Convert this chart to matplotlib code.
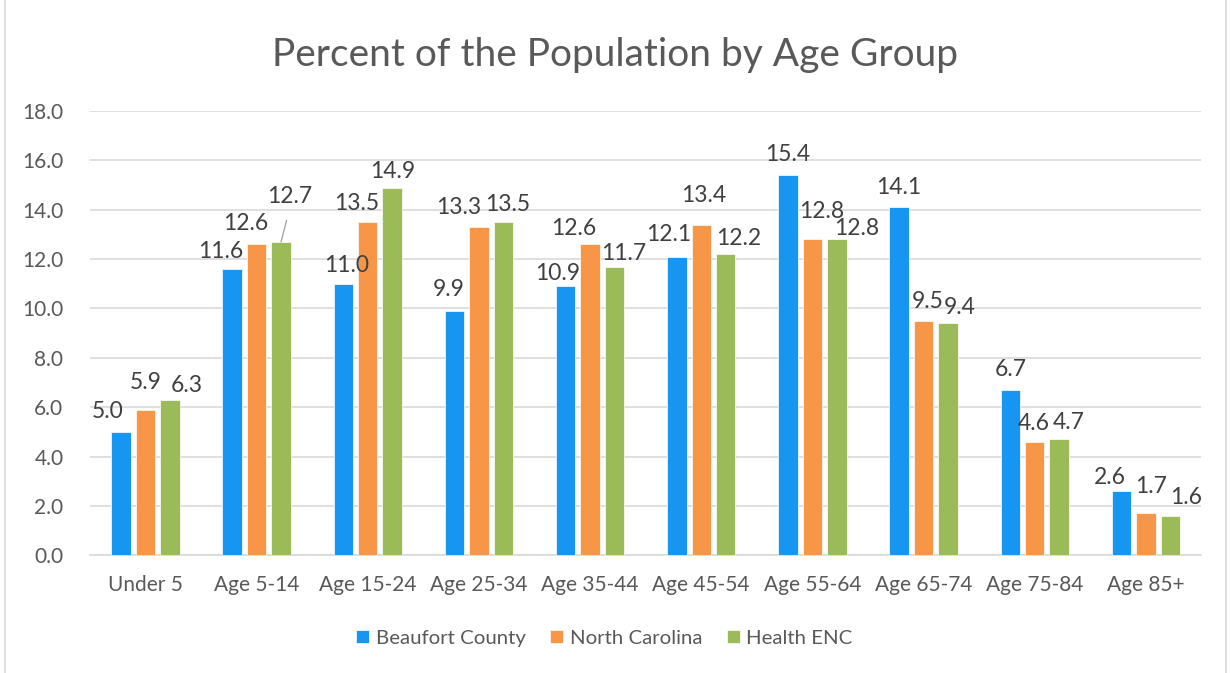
import matplotlib.pyplot as plt
import numpy as np
from matplotlib.patches import Rectangle

plt.rcParams["font.family"] = ["Lato", "DejaVu Sans"]

categories = ["Under 5", "Age 5-14", "Age 15-24", "Age 25-34", "Age 35-44",
              "Age 45-54", "Age 55-64", "Age 65-74", "Age 75-84", "Age 85+"]
beaufort = [5.0, 11.6, 11.0, 9.9, 10.9, 12.1, 15.4, 14.1, 6.7, 2.6]
north_carolina = [5.9, 12.6, 13.5, 13.3, 12.6, 13.4, 12.8, 9.5, 4.6, 1.7]
health_enc = [6.3, 12.7, 14.9, 13.5, 11.7, 12.2, 12.8, 9.4, 4.7, 1.6]
series_names = ["Beaufort County", "North Carolina", "Health ENC"]
colors = ["#1696F0", "#F79646", "#9BBB59"]
text_col = "#595959"
label_col = "#404040"

# hand-placed label nudges (pixels) like in the original chart: (dx, gap above bar)
label_nudge = [
    [(-13, 10), (-11, 7), (3, 8), (-6, 11), (-8, 2), (-8, 12), (0, 10), (0, 9), (0, 10), (-12, 3)],
    [(0, 17), (-11, 10), (-11, 8), (-20, 9), (-16, 5), (2, 19), (9, 17), (4, 9), (-1, 8), (5, 16)],
    [(17, 4), (9, 35), (0, 6), (4, 7), (9, 3), (13, 5), (20, 0), (12, 5), (9, 6), (16, 8)],
]

fig = plt.figure(figsize=(12.31, 6.73), dpi=100)
ax = fig.add_axes([0.073, 0.175, 0.903, 0.66])

# chart border
fig.patches.append(Rectangle((0.004, -0.01), 0.992, 1.02, transform=fig.transFigure,
                             fill=False, edgecolor="#d9d9d9", linewidth=1.2))

x = np.arange(len(categories))
width = 0.175
step = 0.22
series = [beaufort, north_carolina, health_enc]
for i, (vals, name, c) in enumerate(zip(series, series_names, colors)):
    pos = x + (i - 1) * step
    ax.bar(pos, vals, width, color=c, label=name, edgecolor="white", linewidth=0.5, zorder=3)
    for j, (px, v) in enumerate(zip(pos, vals)):
        dx, dy = label_nudge[i][j]
        arrow = None
        if dy > 30:
            # label pulled up with a leader line
            arrow = dict(arrowstyle="-", color="#a6a6a6", lw=1.0, relpos=(0.5, 0),
                         shrinkA=8, shrinkB=0)
        ax.annotate(f"{v:.1f}", xy=(px, v), xytext=(dx, dy), textcoords="offset pixels",
                    ha="center", va="bottom", fontsize=16.5, color=label_col,
                    arrowprops=arrow, zorder=4)

ax.set_xlim(-0.5, len(categories) - 0.5)
ax.set_ylim(0, 18)
ax.set_yticks(np.arange(0, 18.1, 2))
ax.set_yticklabels([f"{t:.1f}" for t in np.arange(0, 18.1, 2)])
ax.set_xticks(x)
ax.set_xticklabels(categories)
ax.tick_params(axis="both", length=0, labelsize=15, colors=text_col)
ax.tick_params(axis="x", pad=14)
ax.tick_params(axis="y", pad=19)
ax.grid(axis="y", color="#d9d9d9", linewidth=1.2, zorder=0)
for s in ["top", "right", "left"]:
    ax.spines[s].set_visible(False)
ax.spines["bottom"].set_color("#d9d9d9")
ax.spines["bottom"].set_linewidth(1.2)

fig.text(0.5, 0.918, "Percent of the Population by Age Group", ha="center", va="center",
         fontsize=28, color=text_col)

fig.legend(loc="center", bbox_to_anchor=(0.491, 0.052), ncol=3, frameon=False,
           fontsize=14.7, labelcolor=text_col, handlelength=0.64, handleheight=0.64,
           columnspacing=1.22, handletextpad=0.3)

fig.savefig("out.png", dpi=100)
